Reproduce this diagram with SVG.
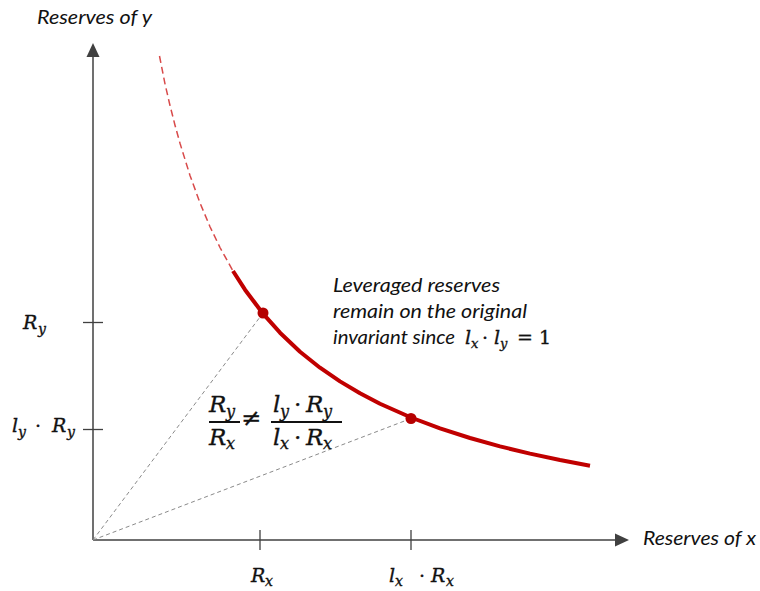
<svg xmlns="http://www.w3.org/2000/svg" width="760" height="591" viewBox="0 0 760 591">
<style>
.axis{stroke:#404040;stroke-width:1.5;fill:none}
.tick{stroke:#404040;stroke-width:1.3}
.guide{stroke:#8a8a8a;stroke-width:1;stroke-dasharray:4 3;fill:none}
.lbl{font-family:Lato,"Open Sans","Liberation Sans",sans-serif;font-style:italic;font-size:18.5px;fill:#111}
.m{font-family:"DejaVu Serif","Liberation Serif",serif;font-style:italic;fill:#111;stroke:#111;stroke-width:0.35}
.mu{font-family:"DejaVu Serif","Liberation Serif",serif;fill:#111;stroke:#111;stroke-width:0.35}
.dot{fill:#b50000}
</style>
<rect width="760" height="591" fill="#fff"/>
<g id="axes">
<line class="axis" x1="93" y1="540" x2="93" y2="56"/>
<polygon points="93,43 86.5,57 99.5,57" fill="#404040"/>
<line class="axis" x1="93" y1="540" x2="616" y2="540"/>
<polygon points="629,540 615,533.5 615,546.5" fill="#404040"/>
<line class="tick" x1="83" y1="322.5" x2="103" y2="322.5"/>
<line class="tick" x1="83" y1="429.5" x2="103" y2="429.5"/>
<line class="tick" x1="260" y1="530" x2="260" y2="550"/>
<line class="tick" x1="411" y1="530" x2="411" y2="550"/>
<text class="lbl" x="37" y="24" textLength="115" lengthAdjust="spacingAndGlyphs">Reserves of y</text>
<text class="lbl" x="643" y="545" textLength="113" lengthAdjust="spacingAndGlyphs">Reserves of x</text>
</g>
<g id="connectors">
<line class="guide" x1="93" y1="540" x2="263" y2="313"/>
<line class="guide" x1="93" y1="540" x2="411" y2="418.5"/>
</g>
<g id="curve">
<path d="M159.5,56 L165,83.8 L170,105.5 L175,125.2 L180,143.3 L190,175.4 L200,202.9 L210,226.7 L220,247.5 L233,271" fill="none" stroke="#d84a4a" stroke-width="1.5" stroke-dasharray="7 4"/>
<path d="M233,271 L245,289.7 L263,313.7 L280,332.7 L300,351.7 L320,367.7 L340,381.4 L360,393.3 L380,403.75 L411,417.5 L440,428.4 L470,438 L500,446.4 L530,453.6 L560,460 L590,465.7" fill="none" stroke="#c00000" stroke-width="4" stroke-linejoin="round"/>
</g>
<g id="point-a"><circle class="dot" cx="263" cy="313" r="5.5"/></g>
<g id="point-b"><circle class="dot" cx="411" cy="418.5" r="5.5"/></g>
<g id="label-ry">
<text class="m" font-size="19" x="23" y="329">R</text>
<text class="m" font-size="14" x="38" y="334">y</text>
</g>
<g id="label-lyry">
<text class="m" font-size="19" x="12" y="432">l</text>
<text class="m" font-size="14" x="18" y="437">y</text>
<text class="mu" font-size="19" x="35" y="432">·</text>
<text class="m" font-size="19" x="52" y="432">R</text>
<text class="m" font-size="14" x="67" y="437">y</text>
</g>
<g id="label-rx">
<text class="m" font-size="19" x="251" y="582">R</text>
<text class="m" font-size="14" x="265" y="586">x</text>
</g>
<g id="label-lxrx">
<text class="m" font-size="19" x="389" y="582">l</text>
<text class="m" font-size="14" x="395" y="586">x</text>
<text class="mu" font-size="19" x="419" y="582">·</text>
<text class="m" font-size="19" x="431" y="582">R</text>
<text class="m" font-size="14" x="446" y="586">x</text>
</g>
<g id="ratio">
<text class="m" font-size="23" x="209" y="412">R</text>
<text class="m" font-size="16" x="226" y="417">y</text>
<line x1="209" y1="422" x2="240" y2="422" stroke="#111" stroke-width="2"/>
<text class="m" font-size="23" x="209" y="445">R</text>
<text class="m" font-size="16" x="226" y="449">x</text>
<text class="mu" font-size="24" x="241" y="426">≠</text>
<text class="m" font-size="23" x="273" y="412">l</text>
<text class="m" font-size="16" x="280" y="417">y</text>
<text class="mu" font-size="23" x="294" y="412">·</text>
<text class="m" font-size="23" x="306" y="412">R</text>
<text class="m" font-size="16" x="323" y="417">y</text>
<line x1="271" y1="422" x2="342" y2="422" stroke="#111" stroke-width="2"/>
<text class="m" font-size="23" x="273" y="445">l</text>
<text class="m" font-size="16" x="280" y="449">x</text>
<text class="mu" font-size="23" x="294" y="445">·</text>
<text class="m" font-size="23" x="306" y="445">R</text>
<text class="m" font-size="16" x="323" y="449">x</text>
</g>
<g id="note">
<text class="lbl" x="333" y="292" textLength="167" lengthAdjust="spacingAndGlyphs">Leveraged reserves</text>
<text class="lbl" x="333" y="318" textLength="194" lengthAdjust="spacingAndGlyphs">remain on the original</text>
<text class="lbl" x="333" y="344" textLength="122" lengthAdjust="spacingAndGlyphs">invariant since</text>
<text class="m" font-size="19" x="465" y="344">l</text>
<text class="m" font-size="13" x="471" y="348">x</text>
<text class="mu" font-size="19" x="482" y="344">·</text>
<text class="m" font-size="19" x="494" y="344">l</text>
<text class="m" font-size="13" x="500" y="348">y</text>
<text class="mu" font-size="19" x="517" y="344">=</text>
<text class="mu" font-size="19" x="539" y="344">1</text>
</g>
</svg>
